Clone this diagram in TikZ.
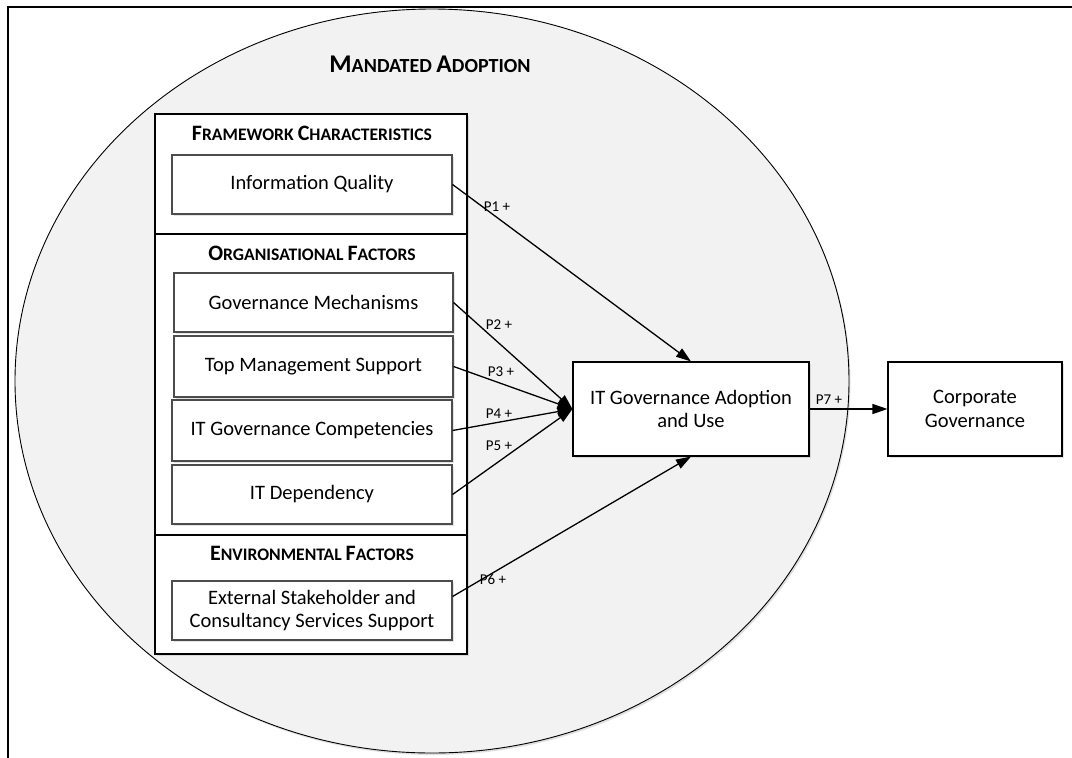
\documentclass[tikz,border=0pt]{standalone}
\usepackage{fontspec}
\setmainfont{Carlito}
\usetikzlibrary{arrows.meta,shadows,calc}

% capitals for the small-caps headings
\newcommand{\hcap}[1]{{\fontsize{22}{24}\selectfont #1}}
\newcommand{\tcap}[1]{{\fontsize{25.5}{28}\selectfont #1}}

\tikzset{
  x=1pt, y=-1pt,
  softshadow/.style={drop shadow={opacity=0.22, shadow xshift=1.8pt, shadow yshift=-1.8pt}},
  groupbox/.style={draw=black, line width=2.4pt, fill=white, inner sep=0pt,
    minimum width=312pt, softshadow},
  factor/.style={draw=black!70, line width=1.1pt, fill=white, inner sep=0pt,
    minimum width=280pt, minimum height=60pt, align=center,
    font=\fontsize{20.5}{23.5}\selectfont, softshadow},
  outcome/.style={draw=black, line width=1.1pt, fill=white, inner sep=0pt,
    minimum height=94pt, align=center,
    font=\fontsize{20.5}{23.5}\selectfont, softshadow},
  heading/.style={inner sep=0pt, font=\fontsize{17.6}{20}\selectfont\bfseries},
  plabel/.style={inner sep=0pt, font=\fontsize{15}{17}\selectfont},
  link/.style={-{Triangle[length=15pt,width=10pt]}, line width=1.3pt},
}

\begin{document}
\begin{tikzpicture}
\useasboundingbox (0,0) rectangle (1072,758);

% mandated adoption region
\draw[fill=black!5, line width=0.9pt,
      drop shadow={opacity=0.25, shadow xshift=1.5pt, shadow yshift=-2pt}]
  (432,381) ellipse [x radius=417, y radius=372];

% outer frame (open at right and bottom)
\draw[line width=2.4pt] (8,758) -- (8,7) -- (1072,7);

\node[inner sep=0pt, font=\fontsize{20}{23}\selectfont\bfseries] (mand) at (430,64)
  {\tcap{M}ANDATED \tcap{A}DOPTION};

% three groups of antecedents
\node[groupbox, minimum height=120pt] (fw)  at (311,174)   {};
\node[groupbox, minimum height=301pt] (org) at (311,384.5) {};
\node[groupbox, minimum height=119pt] (env) at (311,594.5) {};

\node[heading] (fwh)  at (312,133) {\hcap{F}RAMEWORK \hcap{C}HARACTERISTICS};
\node[heading] (orgh) at (312,253) {\hcap{O}RGANISATIONAL \hcap{F}ACTORS};
\node[heading] (envh) at (312,553) {\hcap{E}NVIRONMENTAL \hcap{F}ACTORS};

\node[factor, minimum height=59pt] (iq)  at (312,184.5)   {Information Quality};
\node[factor, minimum width=279pt, minimum height=59pt] (gm) at (313.5,302.5) {Governance Mechanisms};
\node[factor, minimum width=279pt, minimum height=61pt] (tm) at (313.5,366.5) {Top Management Support};
\node[factor, minimum height=61pt] (itc) at (312,430.5)   {IT Governance Competencies};
\node[factor, minimum height=59pt] (itd) at (312,494.5)   {IT Dependency};
\node[factor, minimum height=59pt] (ext) at (312,610.5)   {External Stakeholder and\\Consultancy Services Support};

% outcomes
\node[outcome, minimum width=236pt] (adopt) at (691,409) {IT Governance Adoption\\and Use};
\node[outcome, minimum width=174pt] (corp)  at (975,409) {Corporate\\Governance};

% propositions
\coordinate (p6start) at ($(ext.east)+(0,-14)$);
\draw[link] (iq.east)  -- (adopt.north);
\draw[link] (gm.east)  -- (adopt.west);
\draw[link] (tm.east)  -- (adopt.west);
\draw[link] (itc.east) -- (adopt.west);
\draw[link] (itd.east) -- (adopt.west);
\draw[link] (p6start)  -- (adopt.south);
\draw[link] (adopt.east) -- (corp.west);

\node[plabel] (l1) at (497,207) {P1 +};
\node[plabel] (l2) at (499,325) {P2 +};
\node[plabel] (l3) at (501,372) {P3 +};
\node[plabel] (l4) at (499,414) {P4 +};
\node[plabel] (l5) at (499,446) {P5 +};
\node[plabel] (l6) at (493,579) {P6 +};
\node[plabel] (l7) at (829,400) {P7 +};
\end{tikzpicture}
\end{document}
